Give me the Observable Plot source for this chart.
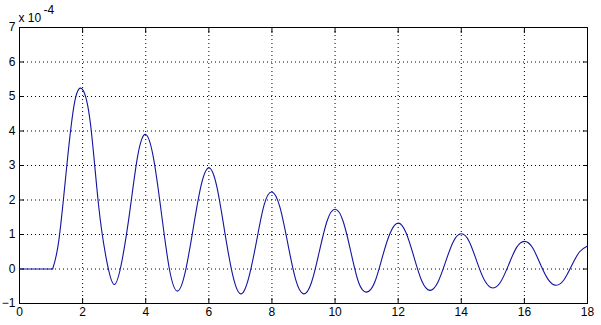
<!DOCTYPE html>
<html>
<head>
<meta charset="utf-8">
<script src="https://cdn.jsdelivr.net/npm/d3@7"></script>
<script src="https://cdn.jsdelivr.net/npm/@observablehq/plot@0.6"></script>
<style>
  html, body { margin: 0; padding: 0; background: #fff; }
  #chart { width: 601px; height: 325px; }
</style>
</head>
<body>
<div id="chart"></div>
<script>
// time (x) and response (y, in units of 1e-4)
const xs = [0, 1.05, 1.25, 1.5, 1.75, 2, 2.25, 2.5, 2.75, 3,
  3.25, 3.5, 3.75, 4, 4.25, 4.5, 4.75, 5,
  5.25, 5.5, 5.75, 6, 6.25, 6.5, 6.75, 7,
  7.25, 7.5, 7.75, 8, 8.25, 8.5, 8.75, 9,
  9.25, 9.5, 9.75, 10, 10.25, 10.5, 10.75, 11,
  11.25, 11.5, 11.75, 12, 12.25, 12.5, 12.75, 13,
  13.25, 13.5, 13.75, 14, 14.25, 14.5, 14.75, 15,
  15.25, 15.5, 15.75, 16, 16.25, 16.5, 16.75, 17,
  17.25, 17.5, 17.75, 18];
const ys = [0, 0, 0.85, 3.0, 4.85, 5.2, 4.2, 1.9, 0.3, -0.45,
  0.25, 1.7, 3.3, 3.9, 3.2, 1.6, 0.0, -0.64,
  -0.1, 1.15, 2.4, 2.93, 2.4, 1.1, -0.15, -0.72,
  -0.3, 0.75, 1.85, 2.23, 1.8, 0.75, -0.3, -0.72,
  -0.4, 0.5, 1.4, 1.73, 1.4, 0.5, -0.4, -0.67,
  -0.4, 0.35, 1.05, 1.33, 1.05, 0.35, -0.35, -0.62,
  -0.4, 0.2, 0.8, 1.02, 0.8, 0.2, -0.35, -0.55,
  -0.37, 0.12, 0.62, 0.8, 0.63, 0.15, -0.3, -0.47,
  -0.32, 0.1, 0.5, 0.67];
const xTicks = [0, 2, 4, 6, 8, 10, 12, 14, 16, 18];
const yTicks = [-1, 0, 1, 2, 3, 4, 5, 6, 7];
const exponentLabel = "x 10";
const exponentPower = "-4";

const data = xs.map((x, i) => ({x, y: ys[i]}));
const restStart = 1.05;
const flatPart = data.filter(d => d.x <= restStart);
const wavePart = data.filter(d => d.x >= restStart);

const chart = Plot.plot({
  width: 601,
  height: 325,
  marginLeft: 19,
  marginRight: 14,
  marginTop: 27,
  marginBottom: 22,
  style: {background: "#fff", fontFamily: "'Liberation Sans', Arial, sans-serif", fontSize: "12px", color: "#000"},
  x: {domain: [0, 18], ticks: xTicks},
  y: {domain: [-1, 7], ticks: yTicks},
  marks: [
    Plot.gridX(xTicks, {stroke: "#000", strokeOpacity: 1, strokeDasharray: "1,3"}),
    Plot.gridY(yTicks, {stroke: "#000", strokeOpacity: 1, strokeDasharray: "1,3"}),
    Plot.axisX(xTicks, {anchor: "bottom", tickSize: -5, tickPadding: 9, label: null, fill: "#000", stroke: "#000"}),
    Plot.axisX(xTicks, {anchor: "top", tickSize: -5, tickFormat: () => "", label: null, stroke: "#000"}),
    Plot.axisY(yTicks, {anchor: "left", tickSize: -5, tickPadding: 9, label: null, fill: "#000", stroke: "#000"}),
    Plot.axisY(yTicks, {anchor: "right", tickSize: -5, tickFormat: () => "", label: null, stroke: "#000"}),
    Plot.frame({stroke: "#000"}),
    Plot.line(flatPart, {x: "x", y: "y", stroke: "#1414a0", strokeWidth: 1.1}),
    Plot.line(wavePart, {x: "x", y: "y", stroke: "#1414a0", strokeWidth: 1.1, curve: "natural"}),
    Plot.text([exponentLabel], {frameAnchor: "top-left", dx: -1, dy: -14, textAnchor: "start", fill: "#000", fontSize: 12}),
    Plot.text([exponentPower], {frameAnchor: "top-left", dx: 24, dy: -22, textAnchor: "start", fill: "#000", fontSize: 12})
  ]
});
document.getElementById("chart").appendChild(chart);
</script>
</body>
</html>
